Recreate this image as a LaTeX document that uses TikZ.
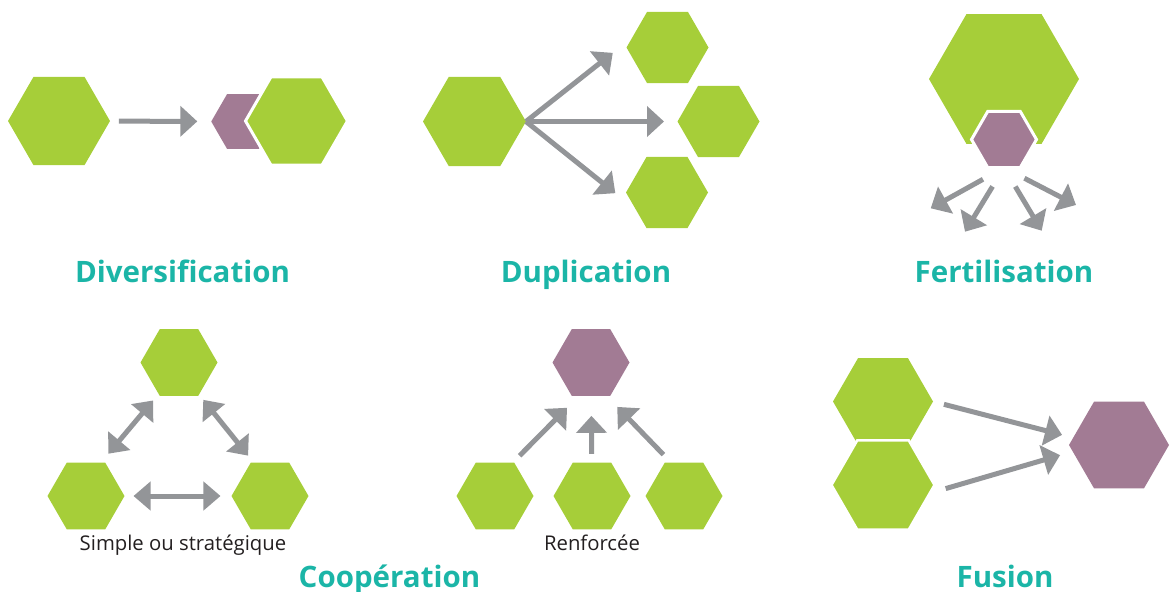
\documentclass[tikz,border=0pt]{standalone}
\usepackage{fontspec}
\setmainfont{Open Sans}[Ligatures=NoCommon]
\usepackage{tikz}
\usetikzlibrary{shapes.geometric, arrows.meta}

\definecolor{hexgreen}{HTML}{A6CE39}
\definecolor{hexpurple}{HTML}{A27B94}
\definecolor{arrgray}{HTML}{939598}
\definecolor{titleteal}{HTML}{1BB5A7}
\definecolor{labelgray}{HTML}{231F20}

\begin{document}
\begin{tikzpicture}[
  x=1pt, y=-1pt,
  hex/.style={regular polygon, regular polygon sides=6, inner sep=0pt, outer sep=0pt, minimum size=#1pt},
  ghex/.style={hex=#1, fill=hexgreen},
  phex/.style={hex=#1, fill=hexpurple},
  cut/.style={draw=white, line width=3pt},
  arr/.style={-{Triangle[length=17pt, width=30pt]}, draw=arrgray, line width=5pt},
  darr/.style={{Triangle[length=17pt, width=28pt]}-{Triangle[length=17pt, width=28pt]}, draw=arrgray, line width=5pt},
  title/.style={anchor=base, text=titleteal, font=\fontsize{29.5}{29.5}\selectfont\bfseries},
  sub/.style={anchor=base, text=labelgray, font=\fontsize{20.3}{20.3}\selectfont}
]
\useasboundingbox (0,0) rectangle (1171,592);

% Diversification
\node[ghex=102] (dv_src) at (59,121) {};
\node[phex=63.5] (dv_pur) at (243,121.5) {};
\node[ghex=102, cut] (dv_new) at (296.5,121) {};
\draw[arr, shorten <=9pt, shorten >=14pt] (dv_src) -- (dv_pur);
\node[title] (dv_tit) at (182.5,282) {Diversification};

% Duplication
\node[ghex=103] (dp_src) at (474.5,121.5) {};
\node[ghex=82] (dp_a) at (667.5,47.5) {};
\node[ghex=82] (dp_b) at (718.5,121.5) {};
\node[ghex=82] (dp_c) at (667,192.5) {};
\draw[arr, shorten >=24.9pt] (dp_src.east) -- (dp_a.164.2);
\draw[arr, shorten >=13.5pt] (dp_src.east) -- (dp_b);
\draw[arr, shorten >=26.4pt] (dp_src.east) -- (dp_c.-151.6);
\node[title] (dp_tit) at (586,282) {Duplication};

% Fertilisation
\node[ghex=150] (ft_big) at (1004,79) {};
\node[phex=65, cut] (ft_pur) at (1004,139.5) {};
\coordinate (ft_t1) at (930.7,208.3);
\coordinate (ft_t2) at (965,231.7);
\coordinate (ft_t3) at (1041.7,230.7);
\coordinate (ft_t4) at (1076,205);
\draw[arr, shorten <=24pt] (ft_pur.south) -- (ft_t1);
\draw[arr, shorten <=22pt] (ft_pur.south) -- (ft_t2);
\draw[arr, shorten <=22pt] (ft_pur.south) -- (ft_t3);
\draw[arr, shorten <=23pt] (ft_pur.south) -- (ft_t4);
\node[title] (ft_tit) at (1004,282) {Fertilisation};

% Cooperation, simple
\node[ghex=77] (cs_top) at (179,362.5) {};
\node[ghex=77] (cs_l) at (86,496) {};
\node[ghex=77] (cs_r) at (270,496) {};
\draw[darr, shorten <=11.7pt, shorten >=8.6pt] (cs_l.66.3) -- (cs_top.-123.6);
\draw[darr, shorten <=6.8pt, shorten >=9pt] (cs_top.-58.5) -- (cs_r.116.4);
\draw[darr, shorten <=9pt, shorten >=11pt] (cs_l) -- (cs_r);
\node[sub] (cs_lab) at (183,550) {Simple ou stratégique};

% Cooperation, reinforced
\node[phex=77] (rf_top) at (591,362.5) {};
\node[ghex=77] (rf_l) at (495,496) {};
\node[ghex=77] (rf_m) at (592,496) {};
\node[ghex=77] (rf_r) at (684,496) {};
\draw[arr, shorten <=9.8pt, shorten >=16.8pt] (rf_l.62.6) -- (rf_top.-110);
\draw[arr, shorten <=8.7pt, shorten >=20pt] (rf_m) -- (rf_top);
\draw[arr, shorten <=11.2pt, shorten >=15.4pt] (rf_r.111.8) -- (rf_top.-65.6);
\node[sub] (rf_lab) at (592,550) {Renforcée};

\node[title] (co_tit) at (389.5,587) {Coopération};

% Fusion
\node[ghex=100] (fu_a) at (883,401.5) {};
\node[ghex=103, draw=white, line width=2.5pt] (fu_b) at (883,485) {};
\node[phex=100] (fu_new) at (1119,445) {};
\draw[arr, shorten <=11.3pt, shorten >=11.5pt] (fu_a.east) -- (fu_new.171.3);
\draw[arr, shorten <=16.6pt, shorten >=13.2pt] (fu_b.-10.8) -- (fu_new.-172.3);
\node[title] (fu_tit) at (1005,587) {Fusion};

\end{tikzpicture}
\end{document}
